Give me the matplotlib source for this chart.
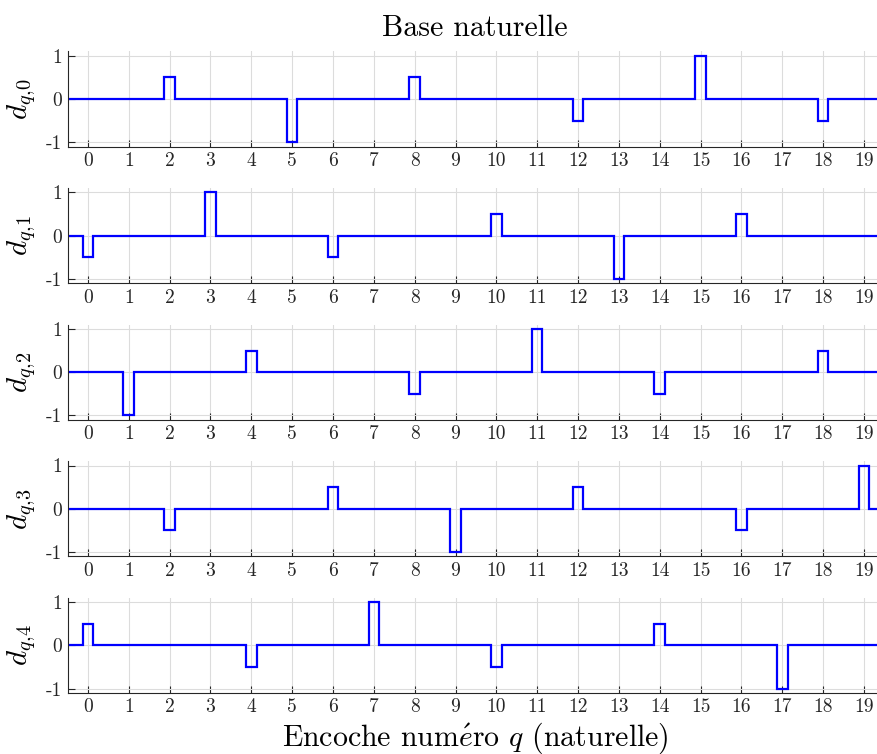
import numpy as np
import matplotlib
matplotlib.use('Agg')
import matplotlib.pyplot as plt

# Amplitudes of each basis vector at notch q = 0..19
q = np.arange(20)
d0 = [0, 0, 0.5, 0, 0, -1, 0, 0, 0.5, 0, 0, 0, -0.5, 0, 0, 1, 0, 0, -0.5, 0]
d1 = [-0.5, 0, 0, 1, 0, 0, -0.5, 0, 0, 0, 0.5, 0, 0, -1, 0, 0, 0.5, 0, 0, 0]
d2 = [0, -1, 0, 0, 0.5, 0, 0, 0, -0.5, 0, 0, 1, 0, 0, -0.5, 0, 0, 0, 0.5, 0]
d3 = [0, 0, -0.5, 0, 0, 0, 0.5, 0, 0, -1, 0, 0, 0.5, 0, 0, 0, -0.5, 0, 0, 1]
d4 = [0.5, 0, 0, 0, -0.5, 0, 0, 1, 0, 0, -0.5, 0, 0, 0, 0.5, 0, 0, -1, 0, 0]
rows = [d0, d1, d2, d3, d4]
ylabels = [r'$d_{q,\!%d}$' % k for k in range(5)]

half = 0.13  # half width of each notch pulse

plt.rcParams['font.family'] = ['cmr10', 'DejaVu Serif']
plt.rcParams['mathtext.fontset'] = 'cm'
plt.rcParams['axes.formatter.use_mathtext'] = True

W, H = 877, 754
fig = plt.figure(figsize=(W / 100, H / 100), dpi=100)

dark = '#262626'
left_px = 67.5
for i, d in enumerate(rows):
    top_px = 51.4 + 136.6 * i
    h_px = 95.2
    ax = fig.add_axes([left_px / W, 1 - (top_px + h_px) / H, (W - left_px) / W, h_px / H])

    # edges: q-0.5, q-half, q+half for every notch, then closing edge
    edges = np.column_stack([q - 0.5, q - half, q + half]).ravel()
    edges = np.append(edges, q[-1] + 0.5)
    vals = np.column_stack([np.zeros(20), d, np.zeros(20)]).ravel()
    ax.stairs(vals, edges, baseline=None, color='#0000ff', lw=1.6)

    ax.set_xlim(-0.5, 19.32)
    ax.set_ylim(-1.1, 1.1)
    ax.set_xticks(q)
    ax.set_xticklabels([str(v) for v in q])
    ax.set_yticks([-1, 0, 1])
    ax.set_yticklabels(['-1', '0', '1'])
    ax.grid(True, color='#dcdcdc', lw=0.8)
    ax.set_axisbelow(True)
    for s in ['top', 'right']:
        ax.spines[s].set_visible(False)
    for s in ['left', 'bottom']:
        ax.spines[s].set_color(dark)
        ax.spines[s].set_linewidth(0.8)
    ax.tick_params(direction='in', length=5, width=0.8, colors=dark, labelsize=14, pad=4)
    ax.set_ylabel(ylabels[i], fontsize=21, color='black')
    ax.yaxis.set_label_coords(-29 / (W - left_px), 0.5)

fig.text(475 / W, 1 - 28 / H, 'Base naturelle', ha='center', va='center', fontsize=21.5)
fig.text(475 / W, 1 - 738 / H, r'Encoche num$\acute{e}$ro $q$ (naturelle)',
         ha='center', va='center', fontsize=21.5)

fig.savefig('out.png', dpi=100)
